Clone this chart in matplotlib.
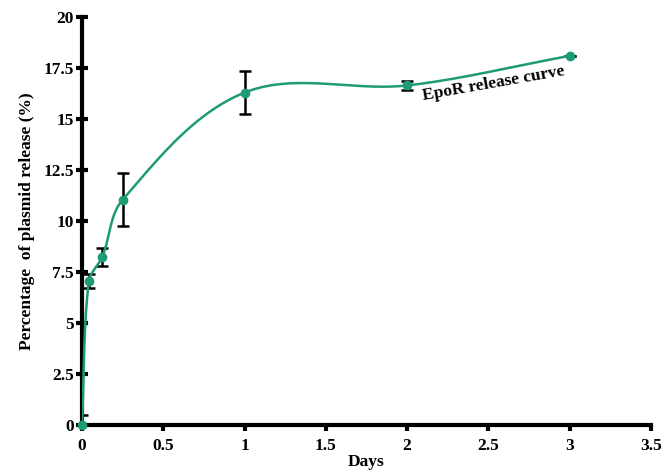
import numpy as np
import matplotlib
matplotlib.use("Agg")
import matplotlib.pyplot as plt

# data
days = [0, 0.042, 0.125, 0.25, 1, 2, 3]
release = [0, 7.05, 8.25, 11.05, 16.3, 16.65, 18.1]
release_err = [0.5, 0.35, 0.45, 1.3, 1.05, 0.2, 0]

x_ticks = [0, 0.5, 1, 1.5, 2, 2.5, 3, 3.5]
y_ticks = [0, 2.5, 5, 7.5, 10, 12.5, 15, 17.5, 20]

GREEN = "#1e9b76"


def smooth_curve(xs, ys, sx=162.6, sy=20.4, n=60):
    """Smoothed line like a spreadsheet one: bezier segments with tangents
    from the neighbours, sized by the segment length (in pixel space)."""
    px = np.asarray(xs, float) * sx
    py = np.asarray(ys, float) * sy
    pts = np.column_stack([px, py])
    last = len(pts) - 1
    dirs = []
    for i in range(len(pts)):
        d = pts[min(i + 1, last)] - pts[max(i - 1, 0)]
        dirs.append(d / np.hypot(*d))
    t = np.linspace(0, 1, n)[:, None]
    out = []
    for i in range(last):
        p0, p3 = pts[i], pts[i + 1]
        seg = np.hypot(*(p3 - p0)) / 3
        c1 = p0 + dirs[i] * seg
        c2 = p3 - dirs[i + 1] * seg
        b = (1 - t) ** 3 * p0 + 3 * (1 - t) ** 2 * t * c1 \
            + 3 * (1 - t) * t ** 2 * c2 + t ** 3 * p3
        out.append(b)
    out = np.vstack(out)
    return out[:, 0] / sx, out[:, 1] / sy


plt.rcParams["font.family"] = ["Liberation Serif", "DejaVu Serif"]
plt.rcParams["font.weight"] = "bold"

fig = plt.figure(figsize=(6.63, 4.75), dpi=100)
ax = fig.add_axes([0.1237, 0.105, 0.858, 0.859])

cx, cy = smooth_curve(days, release)
ax.plot(cx, cy, color=GREEN, lw=1.8, zorder=3)
ax.errorbar(days, release, yerr=release_err, fmt="none", ecolor="black",
            elinewidth=1.8, capsize=4, capthick=1.8, zorder=2)
ax.plot(days, release, "o", color=GREEN, ms=6, zorder=4, clip_on=False)

ax.set_xlim(0, 3.5)
ax.set_ylim(0, 20)
ax.set_xticks(x_ticks)
ax.set_xticklabels([f"{v:g}" for v in x_ticks])
ax.set_yticks(y_ticks)
ax.set_yticklabels([f"{v:g}" for v in y_ticks])

for side in ["top", "right"]:
    ax.spines[side].set_visible(False)
for side in ["left", "bottom"]:
    ax.spines[side].set_linewidth(3)

ax.tick_params(axis="y", direction="inout", length=8, width=3, labelsize=12.5, pad=2)
ax.tick_params(axis="x", direction="out", length=4, width=3, labelsize=12.5, pad=5)

ax.set_ylabel("Percentage  of plasmid release (%)", fontsize=12.5,
              fontweight="bold", labelpad=6)
ax.set_xlabel("Days", fontsize=12.5, fontweight="bold", labelpad=0)

ax.text(2.53, 16.72, "EpoR release curve", fontsize=12.5, fontweight="bold",
        rotation=10, ha="center", va="center")

fig.savefig("out.png", dpi=100)
